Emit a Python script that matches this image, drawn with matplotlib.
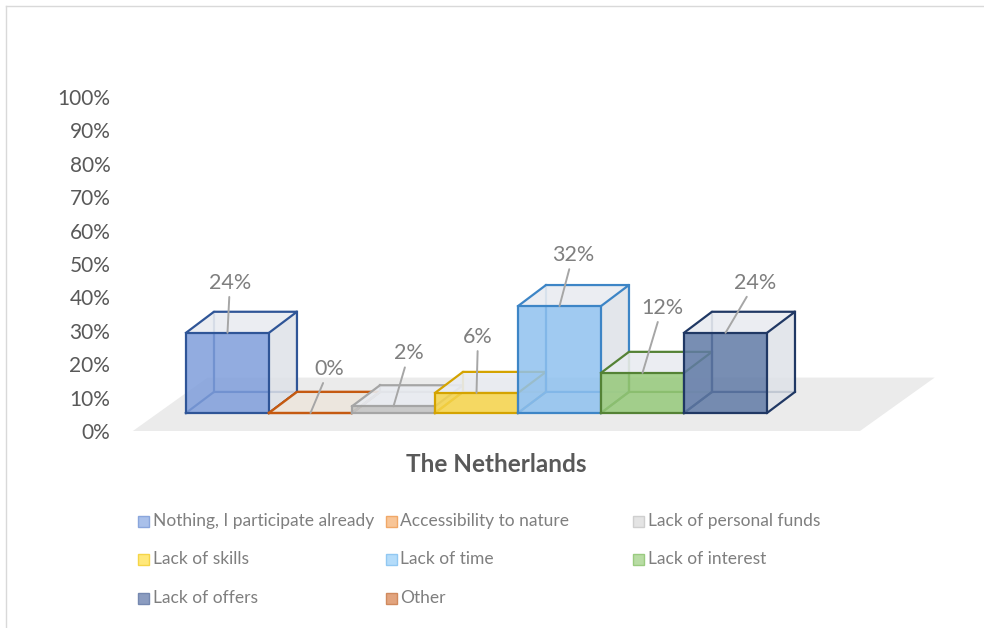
import matplotlib.pyplot as plt
from matplotlib.patches import Polygon, Rectangle
from matplotlib.lines import Line2D

plt.rcParams['font.family'] = ['Lato', 'DejaVu Sans']

# data
categories = ["Nothing, I participate already", "Accessibility to nature",
              "Lack of personal funds", "Lack of skills", "Lack of time",
              "Lack of interest", "Lack of offers", "Other"]
values = [24, 0, 2, 6, 32, 12, 24]          # "Other" has no bar
labels = ["24%", "0%", "2%", "6%", "32%", "12%", "24%"]
yticks = list(range(0, 101, 10))
title = "The Netherlands"

# styles
edge_cols = ["#2f5597", "#c55a11", "#a5a5a5", "#d4a300", "#3d85c6", "#548235", "#203864"]
front_cols = ["#7f9edb", "#ede6dd", "#c4c4c4", "#f7d54a", "#8fc1ef", "#96c97a", "#607aa6"]
legend_cols = ["#a9c0ea", "#f8c597", "#e4e4e4", "#ffe87a", "#b4dcfa", "#b8dca4", "#8b9cc0", "#e2a47e"]
legend_edges = ["#8aa6dc", "#f0a868", "#cfcfcf", "#f5d548", "#92c8f2", "#9acb80", "#7588b0", "#d08a5e"]
label_off = [(2.5, -50), (18.5, -44), (15.5, -53), (1.5, -56), (13.5, -51), (19.5, -65), (29.5, -50)]  # px

W, H = 984, 628
fig = plt.figure(figsize=(W / 100, H / 100), dpi=100)

def fx(p):
    return p / W

def fy(p):
    return 1 - p / H

# chart border
fig.add_artist(Line2D([fx(6), 1], [fy(6), fy(6)], color="#d9d9d9", lw=1))
fig.add_artist(Line2D([fx(6), fx(6)], [fy(6), 0], color="#d9d9d9", lw=1))

ax = fig.add_axes([fx(120), fy(464.4), 820 / W, 400.8 / H])
ax.set_xlim(-0.795, 9.084)
ax.set_ylim(-10, 110)
for s in ax.spines.values():
    s.set_visible(False)
ax.set_xticks([])
ax.set_yticks(yticks)
ax.set_yticklabels([f"{t}%" for t in yticks], fontsize=15, color="#595959")
ax.tick_params(axis="y", length=0, pad=7)

# floor
n = len(values)
fdx, fdy = 0.9, 16
floor = Polygon([(-0.64, 0), (n + 1.12, 0), (n + 1.12 + fdx, fdy), (-0.64 + fdx, fdy)],
                closed=True, facecolor="#ebebeb", edgecolor="none", zorder=1)
ax.add_patch(floor)

base = 5.4
ddx, ddy = 0.337, 6.3
face_light = "#e9ecf1"

for i, v in enumerate(values):
    x0, x1 = i, i + 1
    y0, y1 = base, base + v
    ec = edge_cols[i]
    z = 2 + i * 0.1
    # hidden edges (seen through the translucent faces)
    ax.plot([x0 + ddx, x0 + ddx], [y0 + ddy, y1 + ddy], color=ec, lw=1.6, zorder=z)
    ax.plot([x0, x0 + ddx, x1 + ddx], [y0, y0 + ddy, y0 + ddy], color=ec, lw=1.6, zorder=z)
    # right side
    ax.add_patch(Polygon([(x1, y0), (x1 + ddx, y0 + ddy), (x1 + ddx, y1 + ddy), (x1, y1)],
                         closed=True, facecolor="#dfe2e8", alpha=0.85, edgecolor="none", zorder=z))
    # top
    ax.add_patch(Polygon([(x0, y1), (x1, y1), (x1 + ddx, y1 + ddy), (x0 + ddx, y1 + ddy)],
                         closed=True, facecolor=face_light if v > 0 else front_cols[i],
                         alpha=0.9, edgecolor="none", zorder=z))
    # front
    if v > 0:
        ax.add_patch(Polygon([(x0, y0), (x1, y0), (x1, y1), (x0, y1)],
                             closed=True, facecolor=front_cols[i], alpha=0.85,
                             edgecolor="none", zorder=z + 0.01))
    # visible edges
    ax.plot([x0, x1, x1, x0, x0], [y0, y0, y1, y1, y0], color=ec, lw=1.6, zorder=z + 0.02)
    ax.plot([x0, x0 + ddx, x1 + ddx, x1], [y1, y1 + ddy, y1 + ddy, y1], color=ec, lw=1.6, zorder=z + 0.02)
    ax.plot([x1, x1 + ddx, x1 + ddx], [y0, y0 + ddy, y1 + ddy], color=ec, lw=1.6, zorder=z + 0.02)

    ox, oy = label_off[i]
    ax.annotate(labels[i], xy=((x0 + x1) / 2, y1), xytext=(ox * 0.72, -oy * 0.72),
                textcoords="offset points", ha="center", va="center",
                fontsize=15.5, color="#7f7f7f", zorder=5,
                arrowprops=dict(arrowstyle="-", color="#a6a6a6", lw=1.4,
                                shrinkA=1, shrinkB=0))

fig.text(fx(496), fy(465), title, ha="center", va="center", fontsize=17.5,
         fontweight="bold", color="#595959")

# legend, laid out on an equal-width grid like the original
for k, name in enumerate(categories):
    col, row = k % 3, k // 3
    lx = 138 + col * 247.5
    ly = 521 + row * 38.5
    fig.add_artist(Rectangle((fx(lx), fy(ly + 5.5)), 11 / W, 11 / H,
                             facecolor=legend_cols[k], edgecolor=legend_edges[k], lw=1,
                             transform=fig.transFigure))
    fig.text(fx(lx + 15), fy(ly), name, ha="left", va="center", fontsize=12.5,
             color="#7f7f7f")

fig.savefig("out.png", dpi=100)
